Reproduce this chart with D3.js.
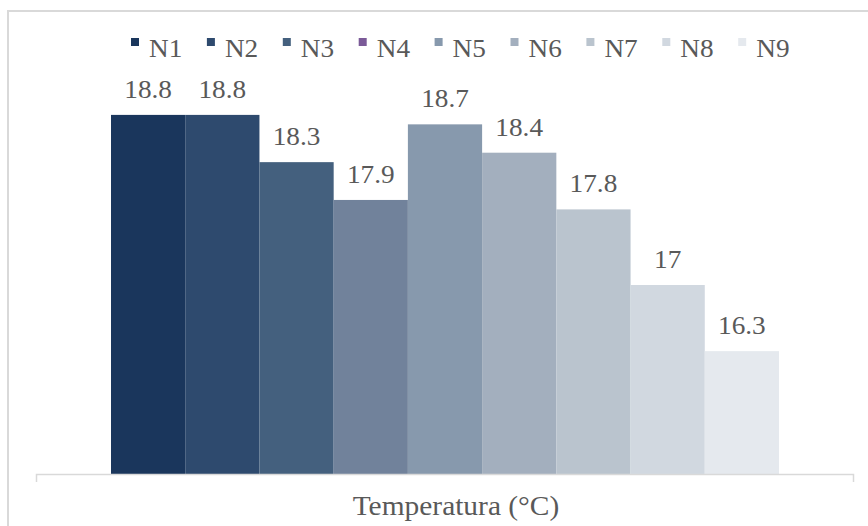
<!DOCTYPE html>
<html>
<head>
<meta charset="utf-8">
<script src="https://cdn.jsdelivr.net/npm/d3@7"></script>
<style>
  body { margin: 0; background: #fff; }
</style>
</head>
<body>
<div id="chart"></div>
<script>

var series = ['N1', 'N2', 'N3', 'N4', 'N5', 'N6', 'N7', 'N8', 'N9'];
var values = [18.8, 18.8, 18.3, 17.9, 18.7, 18.4, 17.8, 17, 16.3];
var barColors = ['#1a365c', '#2e4a6e', '#44607e', '#71829b', '#8799ad', '#a3afbe', '#bac4ce', '#d1d8e0', '#e5e9ee'];
var legendColors = ['#1a365c', '#2e4a6e', '#44607e', '#7b5a98', '#8799ad', '#a3afbe', '#bac4ce', '#d1d8e0', '#e5e9ee'];
var axisTitle = 'Temperatura (°C)';

var W = 868, H = 526;
var serif = "'Liberation Serif', 'DejaVu Serif', serif";
var textColor = '#595959';
var stretch = 1.09; // the reference text is a bit wider than the font

var svg = d3.select('#chart').append('svg')
    .attr('width', W)
    .attr('height', H);

// chart area border (only top and left edges are visible in the picture)
svg.append('rect')
    .attr('x', 8).attr('y', 11)
    .attr('width', W + 20).attr('height', H + 20)
    .attr('fill', 'none')
    .attr('stroke', '#d9d9d9')
    .attr('stroke-width', 2);

var x = d3.scaleBand().domain(series).range([111, 779]).padding(0);
var y = d3.scaleLinear().domain([15, 19]).range([474, 96]);

svg.append('g').selectAll('rect')
    .data(values)
    .enter()
    .append('rect')
    .attr('x', function(d, i) { return x(series[i]); })
    .attr('y', function(d) { return y(d); })
    .attr('width', x.bandwidth())
    .attr('height', function(d) { return y(15) - y(d); })
    .attr('fill', function(d, i) { return barColors[i]; });

svg.append('g').selectAll('text')
    .data(values)
    .enter()
    .append('text')
    .attr('x', function(d, i) { return x(series[i]) + x.bandwidth() / 2; })
    .attr('y', function(d) { return y(d) - 17; })
    .attr('text-anchor', 'middle')
    .attr('font-family', serif)
    .style('font-size', '25px')
    .style('fill', textColor)
    .text(function(d) { return d; });

// category axis line with end ticks
var axisX = d3.scaleLinear().domain([0, 1]).range([36, 853]);
svg.append('g')
    .attr('transform', 'translate(0,' + y(15) + ')')
    .call(d3.axisBottom(axisX).tickValues([]).tickSizeOuter(8))
    .call(function(g) { g.select('.domain').attr('stroke', '#d9d9d9').attr('stroke-width', 1.5); });

svg.append('text')
    .attr('x', 456)
    .attr('y', 515)
    .attr('text-anchor', 'middle')
    .attr('font-family', serif)
    .style('font-size', '27px')
    .style('fill', textColor)
    .text(axisTitle);

// legend
var legend = svg.append('g').selectAll('g')
    .data(series)
    .enter()
    .append('g')
    .attr('transform', function(d, i) { return 'translate(' + (131 + i * 75.9) + ',38)'; });

legend.append('rect')
    .attr('width', 8).attr('height', 8)
    .attr('fill', function(d, i) { return legendColors[i]; });

legend.append('text')
    .attr('x', 18)
    .attr('y', 19)
    .attr('font-family', serif)
    .style('font-size', '25px')
    .style('fill', textColor)
    .text(function(d) { return d; });

// widen all text a little
svg.selectAll('text').each(function() {
    var len = this.getComputedTextLength();
    d3.select(this)
        .attr('textLength', len * stretch)
        .attr('lengthAdjust', 'spacingAndGlyphs');
});

</script>
</body>
</html>
